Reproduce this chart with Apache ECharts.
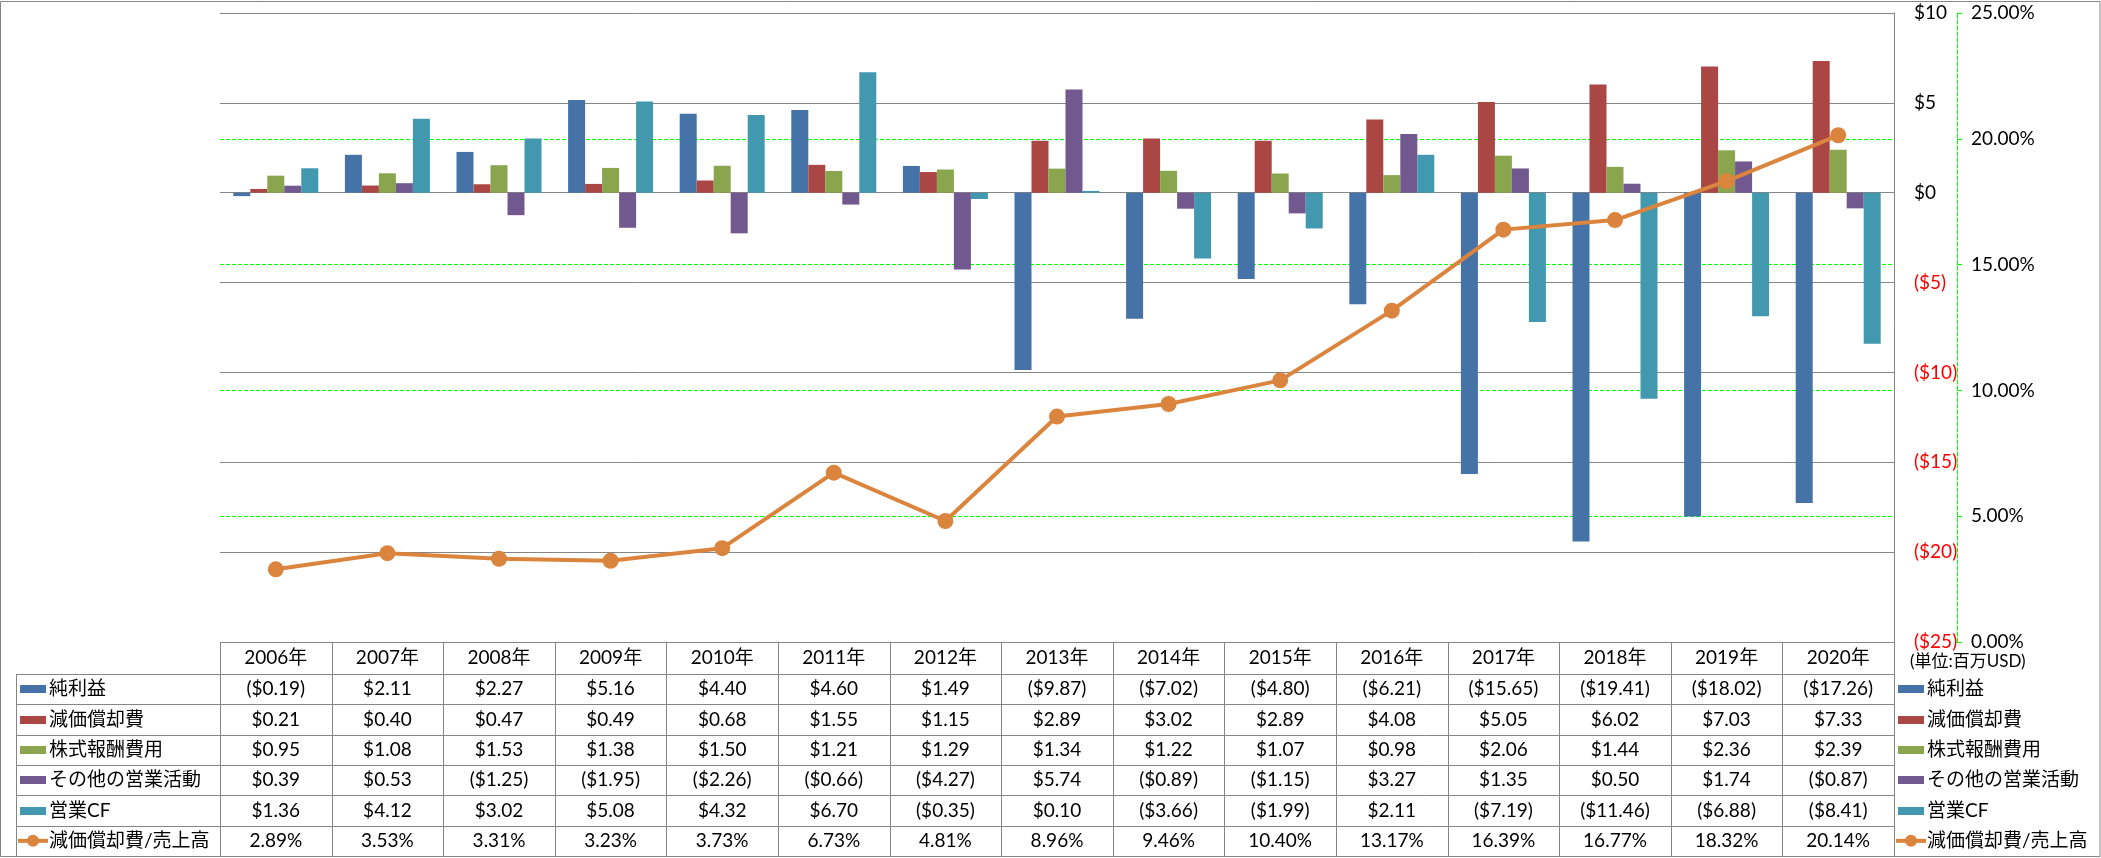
<!DOCTYPE html>
<html>
<head>
<meta charset="utf-8">
<script src="https://cdn.jsdelivr.net/npm/echarts@6/dist/echarts.min.js"></script>
<style>
  html, body { margin: 0; padding: 0; background: #fff; }
  #main { width: 2101px; height: 858px; }
</style>
</head>
<body>
<div id="main"></div>
<script>
// data (百万USD)
const years = ['2006年', '2007年', '2008年', '2009年', '2010年', '2011年', '2012年', '2013年', '2014年', '2015年', '2016年', '2017年', '2018年', '2019年', '2020年'];
const netIncome = [-0.19, 2.11, 2.27, 5.16, 4.40, 4.60, 1.49, -9.87, -7.02, -4.80, -6.21, -15.65, -19.41, -18.02, -17.26];
const depreciation = [0.21, 0.40, 0.47, 0.49, 0.68, 1.55, 1.15, 2.89, 3.02, 2.89, 4.08, 5.05, 6.02, 7.03, 7.33];
const stockComp = [0.95, 1.08, 1.53, 1.38, 1.50, 1.21, 1.29, 1.34, 1.22, 1.07, 0.98, 2.06, 1.44, 2.36, 2.39];
const otherOps = [0.39, 0.53, -1.25, -1.95, -2.26, -0.66, -4.27, 5.74, -0.89, -1.15, 3.27, 1.35, 0.50, 1.74, -0.87];
const opCF = [1.36, 4.12, 3.02, 5.08, 4.32, 6.70, -0.35, 0.10, -3.66, -1.99, 2.11, -7.19, -11.46, -6.88, -8.41];
const depRatio = [2.89, 3.53, 3.31, 3.23, 3.73, 6.73, 4.81, 8.96, 9.46, 10.40, 13.17, 16.39, 16.77, 18.32, 20.14];

const barNames = ['純利益', '減価償却費', '株式報酬費用', 'その他の営業活動', '営業CF'];
const barData = [netIncome, depreciation, stockComp, otherOps, opCF];
const barColors = ['#4572A7', '#AA4643', '#89A54E', '#71588F', '#4198AF'];
const lineName = '減価償却費/売上高';
const lineColor = '#DB843D';
const unitLabel = '(単位:百万USD)';

const FONT = "Lato, 'Noto Sans CJK JP', sans-serif";
const GRAY = '#868686';
const GREEN = '#00FF00';

// layout
const L = 220, R = 1894, T = 13, B = 642;
const tableLeft = 16, headBottom = 674, tableBottom = 856;
const colW = (R - L) / years.length;
const rowH = (tableBottom - headBottom) / 6;

function money(v) {
  return v < 0 ? '($' + Math.abs(v).toFixed(2) + ')' : '$' + v.toFixed(2);
}
function pct(v) { return v.toFixed(2) + '%'; }

const graphic = [];
function hline(y, x1, x2) {
  const yy = Math.round(y) + 0.5;
  graphic.push({ type: 'line', silent: true, shape: { x1: x1, y1: yy, x2: x2, y2: yy }, style: { stroke: GRAY, lineWidth: 1 } });
}
function vline(x, y1, y2) {
  const xx = Math.round(x) + 0.5;
  graphic.push({ type: 'line', silent: true, shape: { x1: xx, y1: y1, x2: xx, y2: y2 }, style: { stroke: GRAY, lineWidth: 1 } });
}
function txt(s, x, y, align, size) {
  graphic.push({ type: 'text', silent: true, x: x, y: y,
    style: { text: s, fill: '#000', fontSize: size || 19, fontFamily: FONT, align: align || 'center', verticalAlign: 'middle' } });
}
function key(row, x, cy) {
  if (row.bar) {
    graphic.push({ type: 'rect', silent: true, shape: { x: x, y: Math.round(cy) - 4, width: 26, height: 8 }, style: { fill: row.color } });
  } else {
    graphic.push({ type: 'line', silent: true, shape: { x1: x - 2, y1: cy, x2: x + 28, y2: cy }, style: { stroke: row.color, lineWidth: 4 } });
    graphic.push({ type: 'circle', silent: true, shape: { cx: x + 13, cy: cy, r: 6 }, style: { fill: row.color } });
  }
}

// outer border
graphic.push({ type: 'rect', silent: true, shape: { x: 0.5, y: 1.5, width: 2099.5, height: 855 }, style: { fill: 'none', stroke: GRAY, lineWidth: 1 } });

// table grid
hline(B, L, R);
for (let r = 0; r <= 6; r++) hline(headBottom + r * rowH, tableLeft, R);
vline(tableLeft, headBottom, tableBottom);
for (let c = 0; c <= years.length; c++) vline(L + c * colW, B, tableBottom);

// table rows + right-hand legend
const rows = barNames.map((n, i) => ({ name: n, data: barData[i], color: barColors[i], fmt: money, bar: true }));
rows.push({ name: lineName, data: depRatio, color: lineColor, fmt: pct, bar: false });
rows.forEach((row, r) => {
  const cy = headBottom + (r + 0.5) * rowH;
  key(row, 20, cy);
  txt(row.name, 49, cy, 'left', 19);
  row.data.forEach((v, c) => txt(row.fmt(v), L + (c + 0.5) * colW, cy, 'center', 19));
  key(row, 1898, cy);
  txt(row.name, 1927, cy, 'left', 19);
});
txt(unitLabel, 1910, 662, 'left', 17);

const series = barNames.map((n, i) => ({
  name: n,
  type: 'bar',
  data: barData[i],
  barWidth: 17,
  barGap: '0%',
  itemStyle: { color: barColors[i] },
  z: 2
}));
series.push({
  name: lineName,
  type: 'line',
  yAxisIndex: 1,
  data: depRatio,
  symbol: 'circle',
  symbolSize: 16,
  lineStyle: { color: lineColor, width: 4 },
  itemStyle: { color: lineColor },
  z: 5
});

const chart = echarts.init(document.getElementById('main'));
chart.setOption({
  animation: false,
  textStyle: { fontFamily: FONT },
  grid: { left: L, right: 2101 - R, top: T, bottom: 858 - B, containLabel: false },
  xAxis: {
    type: 'category',
    data: years,
    axisLine: { show: false, onZero: false },
    axisTick: { show: false },
    splitLine: { show: false },
    axisLabel: { interval: 0, margin: 16, verticalAlign: 'middle', fontSize: 19, color: '#000', fontFamily: FONT }
  },
  yAxis: [
    {
      type: 'value',
      position: 'right',
      min: -25, max: 10, interval: 5,
      z: 1,
      axisLine: { show: true, lineStyle: { color: GRAY, width: 1 } },
      axisTick: { show: false },
      splitLine: { show: true, lineStyle: { color: GRAY, width: 1 } },
      axisLabel: {
        margin: 20,
        fontSize: 19,
        fontFamily: FONT,
        color: '#000',
        formatter: v => v < 0 ? '{neg|($' + Math.abs(v) + ')}' : '$' + v,
        rich: { neg: { color: '#FF0000', fontSize: 19, fontFamily: FONT } }
      }
    },
    {
      type: 'value',
      position: 'right',
      offset: 63,
      min: 0, max: 25, interval: 5,
      z: 0,
      axisLine: { show: true, lineStyle: { color: GREEN, width: 1, type: [4, 2] } },
      axisTick: { show: true, length: 5, lineStyle: { color: GREEN } },
      splitLine: { show: true, lineStyle: { color: GREEN, width: 1, type: [4, 2] } },
      axisLabel: { margin: 14, fontSize: 19, fontFamily: FONT, color: '#000', formatter: v => v.toFixed(2) + '%' }
    }
  ],
  series: series,
  graphic: graphic
});
</script>
</body>
</html>
